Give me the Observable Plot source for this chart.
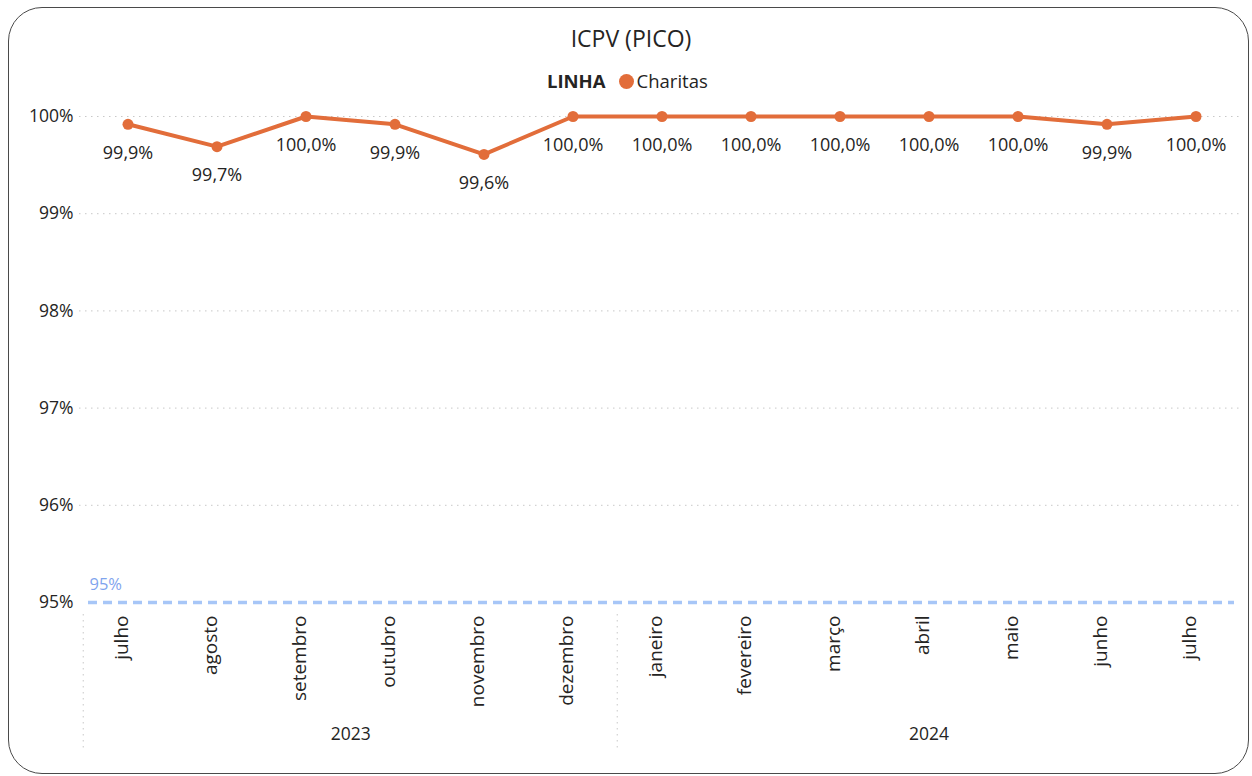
<!DOCTYPE html>
<html>
<head>
<meta charset="utf-8">
<script src="https://cdn.jsdelivr.net/npm/d3@7"></script>
<script src="https://cdn.jsdelivr.net/npm/@observablehq/plot@0.6"></script>
<style>
  html, body { margin: 0; padding: 0; background: #fff; }
  #page { position: relative; width: 1252px; height: 776px; overflow: hidden; font-family: "Open Sans", "Noto Sans", sans-serif; color: #252423; }
  #card { position: absolute; left: 8px; top: 7px; width: 1241px; height: 767px; box-sizing: border-box; border: 1.5px solid #4a4a4a; border-radius: 34px; }
  #title { position: absolute; left: 0; width: 1262px; top: 22px; text-align: center; font-size: 23px; color: #252423; line-height: 32px; }
  #legend { position: absolute; left: 547px; top: 68px; font-size: 18.5px; line-height: 26px; display: flex; align-items: center; white-space: nowrap; }
  #legend b { font-weight: 700; margin-right: 13px; }
  #legend .dot { display: inline-block; width: 15px; height: 15px; border-radius: 50%; background: #E26D3A; margin-right: 3px; }
  #chart { position: absolute; left: 0; top: 60px; }
</style>
</head>
<body>
<div id="page">
  <div id="card"></div>
  <div id="title">ICPV (PICO)</div>
  <div id="legend"><b>LINHA</b><span class="dot"></span><span>Charitas</span></div>
  <div id="chart"></div>
</div>
<script>
const months = ["julho","agosto","setembro","outubro","novembro","dezembro","janeiro","fevereiro","março","abril","maio","junho","julho"];
const years = [2023,2023,2023,2023,2023,2023,2024,2024,2024,2024,2024,2024,2024];
const values = [99.92, 99.69, 100.0, 99.92, 99.61, 100.0, 100.0, 100.0, 100.0, 100.0, 100.0, 99.92, 100.0];
const yTicks = [95, 96, 97, 98, 99, 100];
const target = 95;
const yearLabels = [2023, 2024];

const data = months.map((m, i) => ({key: `${m} ${years[i]}`, month: m, year: years[i], value: values[i]}));
const keys = data.map(d => d.key);

const W = 1252, H = 716, mL = 79, mR = 9, mT = 56, mB = 174;
const half = (W - mL - mR) / keys.length / 2;
const orange = "#E26D3A";

// year groups: label centred over each year's months
const yearGroups = yearLabels.map(y => {
  const ks = data.filter(d => d.year === y).map(d => d.key);
  return {year: y, first: ks[0], count: ks.length};
});
const yearText = yearGroups.map(g => ({
  year: String(g.year),
  key: keys[keys.indexOf(g.first) + Math.floor((g.count - 1) / 2)],
  even: g.count % 2 === 0
}));
const dividers = yearGroups.map(g => g.first);

const fmt = v => v.toFixed(1).replace(".", ",") + "%";

const chart = Plot.plot({
  width: W, height: H,
  marginLeft: mL, marginRight: mR, marginTop: mT, marginBottom: mB,
  style: {fontFamily: "'Open Sans', 'Noto Sans', sans-serif", fontSize: "17px", color: "#252423", background: "transparent", overflow: "visible"},
  x: {type: "band", domain: keys, padding: 0, label: null},
  y: {domain: [95, 100], label: null},
  marks: [
    Plot.gridY(yTicks.filter(t => t !== target), {stroke: "#c8c8c8", strokeOpacity: 1, strokeDasharray: "1.5,4.5"}),
    Plot.axisY(yTicks, {tickSize: 0, tickPadding: 6, tickFormat: d => d + "%", fontSize: 17.5, fill: "#252423", label: null}),
    Plot.axisX({tickSize: 0, tickPadding: 13, tickRotate: -90, dx: -6, tickFormat: k => k.split(" ")[0], fontSize: 19, fill: "#252423", label: null}),
    Plot.ruleX(dividers, {x: d => d, dx: -half, stroke: "#c8c8c8", strokeDasharray: "1.5,4.5", insetTop: 498, insetBottom: -148}),
    Plot.text(yearText.filter(d => d.even), {x: "key", text: "year", frameAnchor: "bottom", lineAnchor: "middle", dy: 132, dx: half, fontSize: 17.5, fill: "#252423"}),
    Plot.text(yearText.filter(d => !d.even), {x: "key", text: "year", frameAnchor: "bottom", lineAnchor: "middle", dy: 132, fontSize: 17.5, fill: "#252423"}),
    Plot.ruleY([target], {stroke: "#a7c6f7", strokeWidth: 3.5, strokeDasharray: "9,6", insetLeft: 9, insetRight: 9}),
    Plot.text([target], {y: d => d, text: d => d + "%", frameAnchor: "left", textAnchor: "start", dx: 10, dy: -18, fill: "#7fa4ee", fontSize: 16.5}),
    Plot.line(data, {x: "key", y: "value", stroke: orange, strokeWidth: 4}),
    Plot.dot(data, {x: "key", y: "value", r: 5.5, fill: orange}),
    Plot.text(data, {x: "key", y: "value", text: d => fmt(d.value), dy: 29, fontSize: 18, fill: "#252423"})
  ]
});
document.getElementById("chart").appendChild(chart);
</script>
</body>
</html>
